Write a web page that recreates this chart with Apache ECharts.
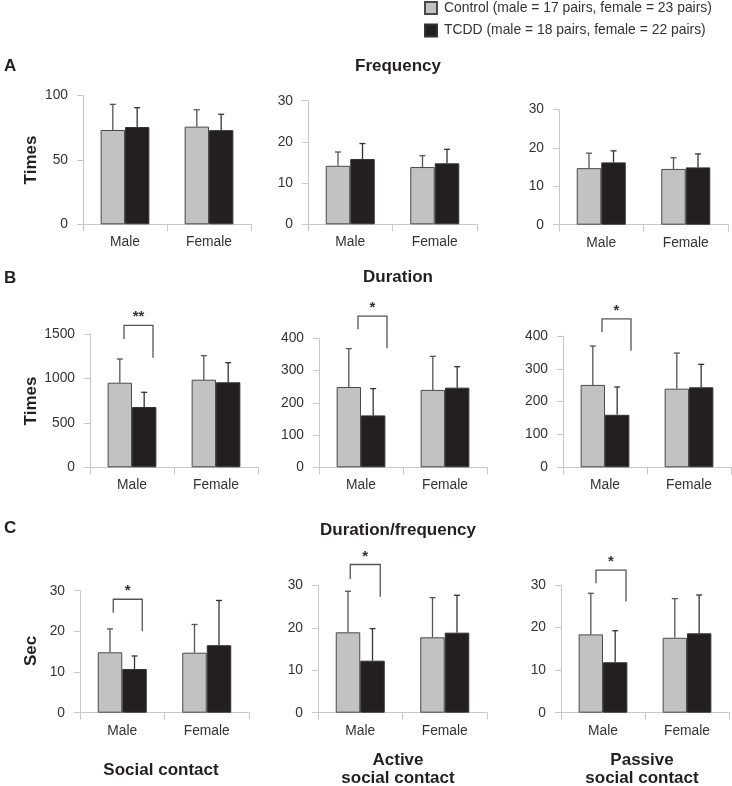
<!DOCTYPE html>
<html>
<head>
<meta charset="utf-8">
<script src="https://cdn.jsdelivr.net/npm/echarts@6/dist/echarts.min.js"></script>
<style>html,body{margin:0;padding:0;background:#fff;}#c{width:732px;height:786px;}</style>
</head>
<body>
<div id="c"></div>
<script>
// ---------- DATA ----------
const categories = ['Male', 'Female'];
const legendNames = ['Control (male = 17 pairs, female = 23 pairs)', 'TCDD (male = 18 pairs, female = 22 pairs)'];
const rowTitles = ['Frequency', 'Duration', 'Duration/frequency'];
const rowLetters = ['A', 'B', 'C'];
const rowYLabels = ['Times', 'Times', 'Sec'];
const columnLabels = [['Social contact'], ['Active', 'social contact'], ['Passive', 'social contact']];

// Frequency (panels A)
const freqControl = [[73.1, 75.7], [14.2, 13.9], [14.7, 14.5]];
const freqControlSD = [[19.9, 13.1], [3.35, 2.75], [3.9, 2.9]];
const freqTCDD = [[75.4, 73.0], [15.85, 14.8], [16.2, 14.9]];
const freqTCDDSD = [[15.0, 12.3], [3.75, 3.4], [3.0, 3.5]];
// Duration (panels B)
const durControl = [[954, 988], [249, 240], [251, 239.5]];
const durControlSD = [[267, 271], [119, 104], [118.5, 108.5]];
const durTCDD = [[680, 959], [161, 247], [160, 243.7]];
const durTCDDSD = [[166, 221], [83, 65], [84.6, 70]];
// Duration/frequency (panels C)
const ratioControl = [[14.85, 14.75], [18.93, 17.75], [18.4, 17.6]];
const ratioControlSD = [[5.75, 6.95], [9.67, 9.35], [9.65, 9.2]];
const ratioTCDD = [[10.75, 16.6], [12.25, 18.85], [11.85, 18.65]];
const ratioTCDDSD = [[3.2, 11.0], [7.55, 8.8], [7.4, 9.0]];

// Axis ranges (tick labels)
const yMax = [100, 30, 30, 1500, 400, 400, 30, 30, 30];
const yInterval = [50, 10, 10, 500, 100, 100, 10, 10, 10];

// Significance brackets: panel index, mark, [left leg bottom, top, right leg bottom] in data units
const sigPanels = [3, 4, 5, 6, 7, 8];
const sigMarks = ['**', '*', '*', '*', '*', '*'];
const sigLevels = [[1447, 1601, 1236], [428, 469, 369], [412, 452, 355], [24.6, 27.9, 20.0], [31.5, 34.9, 27.3], [30.4, 33.5, 26.1]];

// ---------- LAYOUT ----------
const grids = [
  {left: 83, top: 95.3, width: 168, height: 129},
  {left: 308, top: 100.7, width: 169, height: 123.6},
  {left: 559, top: 109.3, width: 169, height: 115.4},
  {left: 90, top: 334.3, width: 168, height: 133},
  {left: 319, top: 338.3, width: 168, height: 129},
  {left: 563, top: 336, width: 168, height: 131.3},
  {left: 80, top: 590.7, width: 169, height: 122},
  {left: 318, top: 585.3, width: 169, height: 127.4},
  {left: 561, top: 585, width: 168, height: 127.7}
];
const bracketOffsets = [[-8, 21], [-3, 26], [-3, 26], [-9, 20], [-10, 20], [-7, 23]];
const FONT = '"Liberation Sans", Arial, Helvetica, sans-serif';
const CAT_GAP = 0.42;
const ctrlColor = '#c2c2c2';
const tcddColor = '#231f20';

const rowsControl = [freqControl, durControl, ratioControl];
const rowsControlSD = [freqControlSD, durControlSD, ratioControlSD];
const rowsTCDD = [freqTCDD, durTCDD, ratioTCDD];
const rowsTCDDSD = [freqTCDDSD, durTCDDSD, ratioTCDDSD];

const xAxes = [], yAxes = [], series = [];
grids.forEach((g, i) => {
  xAxes.push({
    gridIndex: i, type: 'category', data: categories,
    axisLine: {lineStyle: {color: '#c8c8c8', width: 1}},
    axisTick: {show: true, length: 7, lineStyle: {color: '#c8c8c8'}},
    axisLabel: {color: '#333', fontSize: 13.8, fontFamily: FONT, margin: 11},
    splitLine: {show: false}
  });
  yAxes.push({
    gridIndex: i, type: 'value', min: 0, max: yMax[i], interval: yInterval[i],
    axisLine: {show: true, lineStyle: {color: '#c8c8c8', width: 1}},
    axisTick: {show: true, length: 6, lineStyle: {color: '#c8c8c8'}},
    axisLabel: {color: '#333', fontSize: 13.8, fontFamily: FONT, margin: 15, formatter: v => String(v)},
    splitLine: {show: false}
  });
});

function errRender(params, api) {
  const cat = api.value(0), mean = api.value(1), sd = api.value(2), grp = api.value(3);
  const band = api.size([1, 0])[0];
  const bw = band * (1 - CAT_GAP) / 2;
  const c = api.coord([cat, mean]);
  const e = api.coord([cat, mean + sd]);
  const x = c[0] + (grp === 0 ? -bw / 2 : bw / 2);
  const color = grp === 0 ? '#555' : '#333';
  return {
    type: 'group',
    children: [
      {type: 'line', shape: {x1: x, y1: c[1], x2: x, y2: e[1]}, style: {stroke: color, lineWidth: 1.3}},
      {type: 'line', shape: {x1: x - 3, y1: e[1], x2: x + 3, y2: e[1]}, style: {stroke: color, lineWidth: 1.3}}
    ]
  };
}

for (let i = 0; i < 9; i++) {
  const r = Math.floor(i / 3), col = i % 3;
  const ctrl = rowsControl[r][col], ctrlSD = rowsControlSD[r][col];
  const tc = rowsTCDD[r][col], tcSD = rowsTCDDSD[r][col];
  series.push({
    name: legendNames[0], type: 'bar', xAxisIndex: i, yAxisIndex: i,
    data: ctrl, barGap: '0%', barCategoryGap: (CAT_GAP * 100) + '%',
    itemStyle: {color: ctrlColor, borderColor: '#4a4a4a', borderWidth: 1},
    silent: true
  });
  series.push({
    name: legendNames[1], type: 'bar', xAxisIndex: i, yAxisIndex: i,
    data: tc, barGap: '0%', barCategoryGap: (CAT_GAP * 100) + '%',
    itemStyle: {color: tcddColor, borderColor: '#333', borderWidth: 1},
    silent: true
  });
  const errData = [];
  categories.forEach((c, k) => {
    errData.push([k, ctrl[k], ctrlSD[k], 0]);
    errData.push([k, tc[k], tcSD[k], 1]);
  });
  series.push({
    type: 'custom', xAxisIndex: i, yAxisIndex: i, data: errData,
    renderItem: errRender, z: 1, silent: true, clip: false,
    encode: {x: 0, y: 1}
  });
}

sigPanels.forEach((p, s) => {
  series.push({
    type: 'custom', xAxisIndex: p, yAxisIndex: p, clip: false, silent: true, z: 5,
    data: [[0, sigLevels[s][0], sigLevels[s][1], sigLevels[s][2]]],
    encode: {x: 0, y: 2},
    renderItem: function (params, api) {
      const cx = api.coord([0, 0])[0];
      const xl = cx + bracketOffsets[s][0], xr = cx + bracketOffsets[s][1];
      const yl = api.coord([0, api.value(1)])[1];
      const yt = api.coord([0, api.value(2)])[1];
      const yr = api.coord([0, api.value(3)])[1];
      return {
        type: 'group',
        children: [
          {type: 'polyline', shape: {points: [[xl, yl], [xl, yt], [xr, yt], [xr, yr]]}, style: {stroke: '#555', lineWidth: 1.3, fill: null}},
          {type: 'text', x: (xl + xr) / 2, y: yt - 8, style: {text: sigMarks[s], font: 'bold 15px ' + FONT, fill: '#333', align: 'center', verticalAlign: 'middle'}}
        ]
      };
    }
  });
});

// ---------- TEXTS ----------
const graphics = [];
const rowTitleY = [66, 277, 530];
const rowLetterY = [66, 278, 528];
const rowYLabelY = [160, 401, 651];
for (let r = 0; r < 3; r++) {
  graphics.push({type: 'text', x: 398, y: rowTitleY[r], style: {text: rowTitles[r], font: 'bold 17px ' + FONT, fill: '#231f20', align: 'center', verticalAlign: 'middle'}});
  graphics.push({type: 'text', x: 4, y: rowLetterY[r], style: {text: rowLetters[r], font: 'bold 17px ' + FONT, fill: '#231f20', align: 'left', verticalAlign: 'middle'}});
  graphics.push({type: 'text', x: 31, y: rowYLabelY[r], rotation: Math.PI / 2, style: {text: rowYLabels[r], font: 'bold 17px ' + FONT, fill: '#231f20', align: 'center', verticalAlign: 'middle'}});
}
const colLabelX = [161, 398, 642];
columnLabels.forEach((lines, c) => {
  if (lines.length === 1) {
    graphics.push({type: 'text', x: colLabelX[c], y: 770, style: {text: lines[0], font: 'bold 17px ' + FONT, fill: '#231f20', align: 'center', verticalAlign: 'middle'}});
  } else {
    graphics.push({type: 'text', x: colLabelX[c], y: 760, style: {text: lines[0], font: 'bold 17px ' + FONT, fill: '#231f20', align: 'center', verticalAlign: 'middle'}});
    graphics.push({type: 'text', x: colLabelX[c], y: 778, style: {text: lines[1], font: 'bold 17px ' + FONT, fill: '#231f20', align: 'center', verticalAlign: 'middle'}});
  }
});

const chart = echarts.init(document.getElementById('c'), null, {renderer: 'canvas'});
chart.setOption({
  animation: false,
  backgroundColor: '#fff',
  legend: {
    orient: 'vertical', left: 424, top: 1, padding: 0,
    itemWidth: 12, itemHeight: 12, itemGap: 8.5, icon: 'rect',
    data: legendNames, selectedMode: false,
    textStyle: {fontSize: 13.9, color: '#333', fontFamily: FONT, padding: [0, 0, 0, 2]}
  },
  grid: grids.map(g => Object.assign({containLabel: false}, g)),
  xAxis: xAxes,
  yAxis: yAxes,
  series: series,
  graphic: graphics
});
</script>
</body>
</html>
